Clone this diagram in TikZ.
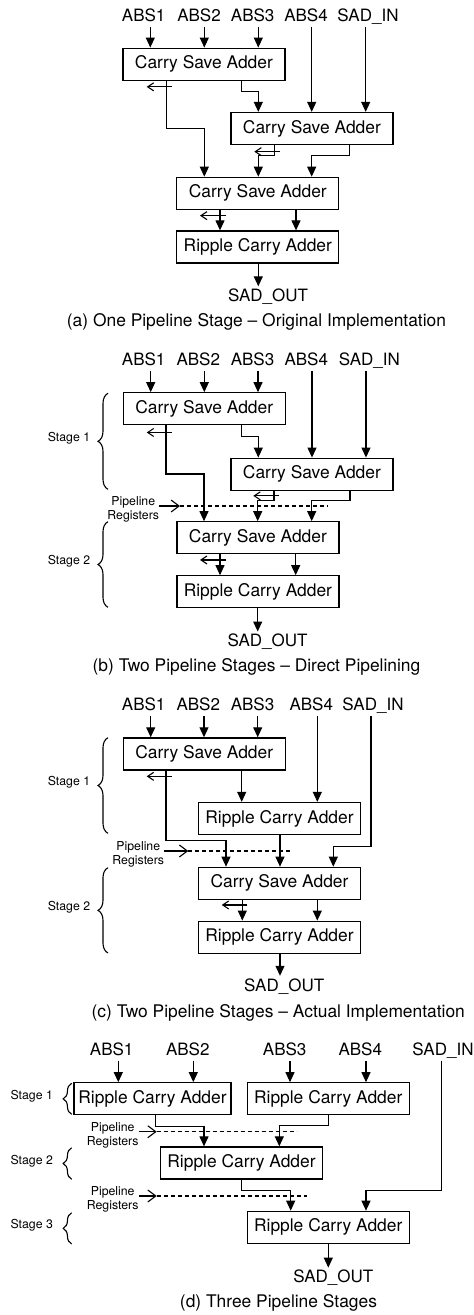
\documentclass[tikz,border=0pt]{standalone}
\usepackage{fontspec}
\setmainfont{TeX Gyre Heros}
\usetikzlibrary{arrows.meta,decorations.pathreplacing}

\tikzset{
  blk/.style={draw, line width=1.3pt, minimum width=162pt, minimum height=32pt, inner sep=0pt, font=\fontsize{17.4}{20}\selectfont},
  sig/.style={inner sep=3pt, text height=12pt, text depth=2pt, font=\fontsize{17}{20}\selectfont},
  capt/.style={inner sep=0pt, font=\fontsize{17.4}{20}\selectfont},
  note/.style={inner sep=0pt, align=center, font=\fontsize{12.3}{14.4}\selectfont},
  arr/.style={line width=1.1pt, -{Triangle[length=10pt,width=9pt]}},
  carry/.style={line width=1.1pt, -{Straight Barb[length=6pt,width=8pt]}},
  regarr/.style={line width=1.1pt, -{Straight Barb[length=8pt,width=12pt]}},
  regline/.style={line width=1.1pt, dash pattern=on 4pt off 3pt},
  stgbrace/.style={line width=1.1pt, decorate, decoration={brace, amplitude=10pt}},
}

\begin{document}
\begin{tikzpicture}[x=1pt, y=-1pt]
                \useasboundingbox (0,0) rectangle (474,1315);

                % (a)
                \node[blk] (csaA1) at (203.9,64.2) {Carry Save Adder};
                \node[blk] (csaA2) at (311.9,128.5) {Carry Save Adder};
                \node[blk] (csaA3) at (257.8,193.3) {Carry Save Adder};
                \node[blk] (rcaA) at (257.8,247) {Ripple Carry Adder};

                \node[sig] (absA1) at (143.7,16.3) {ABS1};
                \node[sig] (absA2) at (199,16.3) {ABS2};
                \node[sig] (absA3) at (252.7,16.3) {ABS3};
                \node[sig] (absA4) at (306,16.3) {ABS4};
                \node[sig] (sinA) at (368,16.3) {SAD\_IN};
                \node[sig] (sadoA) at (268,296.5) {SAD\_OUT};
                \node[capt] (capA) at (256.5,322) {(a) One Pipeline Stage -- Original Implementation};

                \draw[arr] (absA1.south -| 150.3,0) -- (csaA1.north -| 150.3,0);
                \draw[arr] (absA2.south -| 204.3,0) -- (csaA1.north -| 204.3,0);
                \draw[arr] (absA3.south -| 258.3,0) -- (csaA1.north -| 258.3,0);
                \draw[arr] (absA4.south -| 311.7,0) -- (csaA2.north -| 311.7,0);
                \draw[arr] (sinA.south -| 365.7,0) -- (csaA2.north -| 365.7,0);
                \draw[carry] (csaA1.south -| 171.7,0) ++(0,6) -- ++(-25,0);
                \draw[arr] (csaA1.south -| 166.7,0) -- ++(0,48) -| (csaA3.north -| 204.3,0);
                \draw[arr] (csaA1.south -| 241.7,0) -- ++(0,10.6) -| (csaA2.north -| 258.3,0);
                \draw[carry] (csaA2.south -| 280,0) ++(0,6.5) -- ++(-25.7,0);
                \draw[arr] (csaA2.south -| 274.3,0) -- ++(0,10.5) -| (csaA3.north -| 258.3,0);
                \draw[arr] (csaA2.south -| 349.3,0) -- ++(0,10.5) -| (csaA3.north -| 311.7,0);
                \draw[carry] (csaA3.south -| 226,0) ++(0,5.7) -- ++(-26,0);
                \draw[arr] (csaA3.south -| 220,0) -- (rcaA.north -| 220,0);
                \draw[arr] (csaA3.south -| 296,0) -- (rcaA.north -| 296,0);
                \draw[arr] (rcaA.south -| 258.3,0) -- (sadoA.north -| 258.3,0);

                % (b)
                \node[blk] (csaB1) at (204.2,408.8) {Carry Save Adder};
                \node[blk] (csaB2) at (311.9,474.2) {Carry Save Adder};
                \node[blk] (csaB3) at (257.9,537.8) {Carry Save Adder};
                \node[blk] (rcaB) at (257.9,591.8) {Ripple Carry Adder};

                \node[sig] (absB1) at (143.7,360.8) {ABS1};
                \node[sig] (absB2) at (198.3,360.8) {ABS2};
                \node[sig] (absB3) at (252.5,360.8) {ABS3};
                \node[sig] (absB4) at (306.3,360.8) {ABS4};
                \node[sig] (sinB) at (369.3,360.8) {SAD\_IN};
                \node[sig] (sadoB) at (267.5,641.7) {SAD\_OUT};
                \node[capt] (capB) at (256.5,667.3) {(b) Two Pipeline Stages -- Direct Pipelining};

                \node[note] (stgB1) at (69,438.3) {Stage 1};
                \node[note] (stgB2) at (69,561.7) {Stage 2};
                \node[note] (regB) at (133.3,509.5) {Pipeline\\Registers};
                \coordinate (plB) at (180,506);

                \draw[stgbrace] (108,489.3) -- (108,393.3);
                \draw[stgbrace] (108,607.3) -- (108,521.7);
                \draw[regline] (plB) -- ++(148.3,0);
                \draw[regarr] (plB -| regB.east) -- (plB);

                \draw[arr] (absB1.south -| 150.7,0) -- (csaB1.north -| 150.7,0);
                \draw[arr] (absB2.south -| 204.3,0) -- (csaB1.north -| 204.3,0);
                \draw[arr] (absB3.south -| 258,0) -- (csaB1.north -| 258,0);
                \draw[arr] (absB4.south -| 312,0) -- (csaB2.north -| 312,0);
                \draw[arr] (sinB.south -| 366,0) -- (csaB2.north -| 366,0);
                \draw[carry] (csaB1.south -| 171.7,0) ++(0,7) -- ++(-25,0);
                \draw[arr] (csaB1.south -| 166,0) -- ++(0,48.5) -| (csaB3.north -| 204,0);
                \draw[arr] (csaB1.south -| 241.7,0) -- ++(0,11) -| (csaB2.north -| 258.3,0);
                \draw[carry] (csaB2.south -| 279.3,0) ++(0,5) -- ++(-26,0);
                \draw[arr] (csaB2.south -| 274,0) -- ++(0,10) -| (csaB3.north -| 257.7,0);
                \draw[arr] (csaB2.south -| 350,0) -- ++(0,10) -| (csaB3.north -| 311.7,0);
                \draw[carry] (csaB3.south -| 226,0) ++(0,5.5) -- ++(-26,0);
                \draw[arr] (csaB3.south -| 220,0) -- (rcaB.north -| 220,0);
                \draw[arr] (csaB3.south -| 295.7,0) -- (rcaB.north -| 295.7,0);
                \draw[arr] (rcaB.south -| 257.7,0) -- (sadoB.north -| 257.7,0);

                % (c)
                \node[blk] (csaC1) at (204.2,753.9) {Carry Save Adder};
                \node[blk] (rcaC1) at (279.5,818.5) {Ripple Carry Adder};
                \node[blk] (csaC2) at (279.5,883.3) {Carry Save Adder};
                \node[blk] (rcaC2) at (279.5,937.2) {Ripple Carry Adder};

                \node[sig] (absC1) at (143.7,705.7) {ABS1};
                \node[sig] (absC2) at (198.3,705.7) {ABS2};
                \node[sig] (absC3) at (252.5,705.7) {ABS3};
                \node[sig] (absC4) at (311.3,705.7) {ABS4};
                \node[sig] (sinC) at (373,705.7) {SAD\_IN};
                \node[sig] (sadoC) at (284.2,986) {SAD\_OUT};
                \node[capt] (capC) at (278.3,1013.3) {(c) Two Pipeline Stages -- Actual Implementation};

                \node[note] (stgC1) at (69,782.7) {Stage 1};
                \node[note] (stgC2) at (69,907.3) {Stage 2};
                \node[note] (regC) at (138.3,854.5) {Pipeline\\Registers};
                \coordinate (plC) at (188.3,851);

                \draw[stgbrace] (108,833.3) -- (108,737.7);
                \draw[stgbrace] (108,953) -- (108,867.7);
                \draw[regline] (plC) -- ++(102.4,0);
                \draw[regarr] (plC -| regC.east) -- (plC);

                \draw[arr] (absC1.south -| 150.7,0) -- (csaC1.north -| 150.7,0);
                \draw[arr] (absC2.south -| 204,0) -- (csaC1.north -| 204,0);
                \draw[arr] (absC3.south -| 257.7,0) -- (csaC1.north -| 257.7,0);
                \draw[arr] (absC4.south -| 317.3,0) -- (rcaC1.north -| 317.3,0);
                \draw[arr] (sinC.south -| 371,0) -- ++(0,130.3) -| (csaC2.north -| 333.3,0);
                \draw[carry] (csaC1.south -| 171.7,0) ++(0,5.8) -- ++(-25,0);
                \draw[arr] (csaC1.south -| 166,0) -- ++(0,70) -| (csaC2.north -| 226,0);
                \draw[arr] (csaC1.south -| 241.7,0) -- (rcaC1.north -| 241.7,0);
                \draw[arr] (rcaC1.south -| 280,0) -- (csaC2.north -| 280,0);
                \draw[carry] (csaC2.south -| 247.3,0) ++(0,5) -- ++(-25.6,0);
                \draw[arr] (csaC2.south -| 242.3,0) -- (rcaC2.north -| 242.3,0);
                \draw[arr] (csaC2.south -| 317.3,0) -- (rcaC2.north -| 317.3,0);
                \draw[arr] (rcaC2.south -| 280,0) -- (sadoC.north -| 280,0);

                % (d)
                \node[blk, minimum width=157pt] (rcaD1) at (152.5,1098.8) {Ripple Carry Adder};
                \node[blk] (rcaD2) at (328.2,1098.8) {Ripple Carry Adder};
                \node[blk] (rcaD3) at (241.5,1163) {Ripple Carry Adder};
                \node[blk] (rcaD4) at (328.2,1227.3) {Ripple Carry Adder};

                \node[sig] (absD1) at (111.7,1050.7) {ABS1};
                \node[sig] (absD2) at (187.8,1050.7) {ABS2};
                \node[sig] (absD3) at (284.7,1050.7) {ABS3};
                \node[sig] (absD4) at (360.3,1050.7) {ABS4};
                \node[sig] (sinD) at (443,1050.7) {SAD\_IN};
                \node[sig] (sadoD) at (333.3,1277.8) {SAD\_OUT};
                \node[capt] (capD) at (278.5,1303.3) {(d) Three Pipeline Stages};

                \node[note] (stgD1) at (31.7,1096.7) {Stage 1};
                \node[note] (stgD2) at (31.7,1161) {Stage 2};
                \node[note] (stgD3) at (31.7,1225) {Stage 3};
                \node[note] (regD1) at (112.7,1135.2) {Pipeline\\Registers};
                \node[note] (regD2) at (112.7,1199.5) {Pipeline\\Registers};
                \coordinate (plD1) at (156.7,1131.7);
                \coordinate (plD2) at (156.7,1196);

                \draw[stgbrace, decoration={amplitude=8.5pt}] (71.7,1114.3) -- (71.7,1083.3);
                \draw[stgbrace, decoration={amplitude=8.5pt}] (71.7,1179.3) -- (71.7,1147.7);
                \draw[stgbrace, decoration={amplitude=8.5pt}] (71.7,1244) -- (71.7,1212.7);
                \draw[regline] (plD1) -- ++(140,0);
                \draw[regline] (plD2) -- ++(150,0);
                \draw[regarr] (plD1 -| regD1.east) -- (plD1);
                \draw[regarr] (plD2 -| regD2.east) -- (plD2);

                \draw[arr] (absD1.south -| 118.3,0) -- (rcaD1.north -| 118.3,0);
                \draw[arr] (absD2.south -| 193.3,0) -- (rcaD1.north -| 193.3,0);
                \draw[arr] (absD3.south -| 290,0) -- (rcaD2.north -| 290,0);
                \draw[arr] (absD4.south -| 366,0) -- (rcaD2.north -| 366,0);
                \draw[arr] (sinD.south -| 441.7,0) -- ++(0,129.3) -| (rcaD4.north -| 366,0);
                \draw[arr] (rcaD1.south -| 155.7,0) -- ++(0,11) -| (rcaD3.north -| 204,0);
                \draw[arr] (rcaD2.south -| 328.3,0) -- ++(0,10) -| (rcaD3.north -| 279.3,0);
                \draw[arr] (rcaD3.south -| 241.7,0) -- ++(0,11) -| (rcaD4.north -| 290.7,0);
                \draw[arr] (rcaD4.south -| 328.3,0) -- (sadoD.north -| 328.3,0);
\end{tikzpicture}
\end{document}
